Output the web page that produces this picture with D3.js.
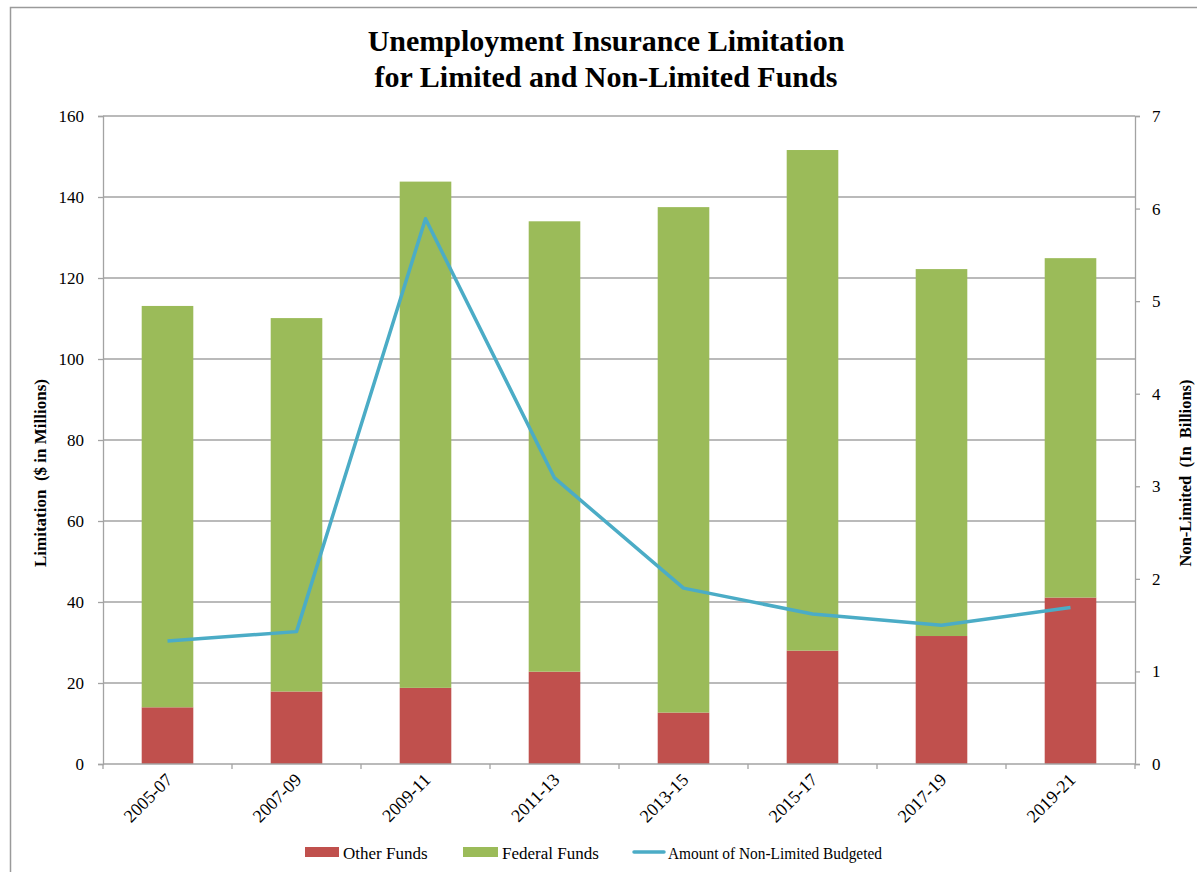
<!DOCTYPE html>
<html>
<head>
<meta charset="utf-8">
<script src="https://cdn.jsdelivr.net/npm/d3@7"></script>
<style>
  html, body { margin: 0; padding: 0; background: #fff; }
  svg { display: block; }
  text { font-family: "Liberation Serif", "Times New Roman", serif; fill: #000; }
</style>
</head>
<body>
<svg id="chart" width="1197" height="872"></svg>
<script>
// Biennium categories
const categories = ["2005-07", "2007-09", "2009-11", "2011-13", "2013-15", "2015-17", "2017-19", "2019-21"];
// Limited funds ($ in millions), stacked
const otherFunds = [14, 17.9, 18.8, 22.8, 12.7, 28.0, 31.6, 41.1];
const federalFunds = [99.1, 92.2, 125.0, 111.2, 124.8, 123.6, 90.6, 83.8];
// Non-limited amount budgeted ($ in billions), right axis
const nonLimited = [1.33, 1.43, 5.89, 3.09, 1.90, 1.62, 1.50, 1.69];
// Axis ticks
const leftTicks = [0, 20, 40, 60, 80, 100, 120, 140, 160];
const rightTicks = [0, 1, 2, 3, 4, 5, 6, 7];
const seriesNames = ["Other Funds", "Federal Funds", "Amount of Non-Limited Budgeted"];

const colors = { other: "#C0504D", federal: "#9BBB59", line: "#4BACC6", grid: "#a3a3a3" };

const svg = d3.select("#chart");
const plot = { left: 103, right: 1135, top: 116, bottom: 764 };

// Outer frame
svg.append("rect")
  .attr("x", 10.5).attr("y", 7.5)
  .attr("width", 1300).attr("height", 1000)
  .attr("fill", "none").attr("stroke", "#9a9a9a").attr("stroke-width", 1.5);

// Title
const title = svg.append("text")
  .attr("text-anchor", "middle")
  .attr("font-size", 30).attr("font-weight", "bold");
title.append("tspan").attr("x", 606).attr("y", 51).text("Unemployment Insurance Limitation");
title.append("tspan").attr("x", 606).attr("y", 87).text("for Limited and Non-Limited Funds");

const x = d3.scaleBand()
  .domain(categories)
  .range([plot.left, plot.right])
  .paddingInner(0.6)
  .paddingOuter(0.3);

const yL = d3.scaleLinear().domain([0, 160]).range([plot.bottom, plot.top]);
const yR = d3.scaleLinear().domain([0, 7]).range([plot.bottom, plot.top]);

// Horizontal gridlines on the left scale
svg.append("g")
  .selectAll("line")
  .data(leftTicks.filter(d => d > 0))
  .join("line")
  .attr("x1", plot.left).attr("x2", plot.right)
  .attr("y1", d => yL(d)).attr("y2", d => yL(d))
  .attr("stroke", colors.grid).attr("stroke-width", 1.3);

// Stacked bars
const rows = categories.map((c, i) => ({ cat: c, other: otherFunds[i], federal: federalFunds[i] }));
const stack = d3.stack().keys(["other", "federal"])(rows);
const fills = { other: colors.other, federal: colors.federal };

svg.append("g")
  .selectAll("g")
  .data(stack)
  .join("g")
  .attr("fill", d => fills[d.key])
  .selectAll("rect")
  .data(d => d)
  .join("rect")
  .attr("x", d => x(d.data.cat))
  .attr("width", x.bandwidth())
  .attr("y", d => yL(d[1]))
  .attr("height", d => yL(d[0]) - yL(d[1]));

// Left axis
const axisL = d3.axisLeft(yL).tickValues(leftTicks).tickSize(5).tickPadding(14).tickFormat(d3.format("d"));
const gL = svg.append("g").attr("transform", `translate(${plot.left},0)`).call(axisL);

// Right axis
const axisR = d3.axisRight(yR).tickValues(rightTicks).tickSize(5).tickPadding(12).tickFormat(d3.format("d"));
const gR = svg.append("g").attr("transform", `translate(${plot.right},0)`).call(axisR);

// Bottom axis: tick marks sit between categories
const bounds = d3.range(categories.length + 1).map(i => plot.left + i * x.step());
const gB = svg.append("g");
gB.append("line")
  .attr("x1", plot.left).attr("x2", plot.right)
  .attr("y1", plot.bottom).attr("y2", plot.bottom)
  .attr("stroke", colors.grid).attr("stroke-width", 1.3);
gB.selectAll("line.tick")
  .data(bounds)
  .join("line")
  .attr("class", "tick")
  .attr("x1", d => d).attr("x2", d => d)
  .attr("y1", plot.bottom).attr("y2", plot.bottom + 5)
  .attr("stroke", colors.grid).attr("stroke-width", 1.3);
gB.selectAll("text")
  .data(categories)
  .join("text")
  .attr("text-anchor", "end")
  .attr("font-size", 18)
  .attr("transform", d => `translate(${x(d) + x.bandwidth() / 2 + 6},${plot.bottom + 17}) rotate(-45)`)
  .text(d => d);

[gL, gR].forEach(g => {
  g.select(".domain").attr("stroke", colors.grid).attr("stroke-width", 1.3);
  g.selectAll(".tick line").attr("stroke", colors.grid).attr("stroke-width", 1.3);
  g.selectAll(".tick text")
    .attr("font-size", 17).attr("fill", "#000");
});

// Axis titles
svg.append("text")
  .attr("transform", "translate(46,473) rotate(-90)")
  .attr("text-anchor", "middle")
  .attr("font-size", 17).attr("font-weight", "bold")
  .style("white-space", "pre")
  .text("Limitation  ($ in Millions)");

svg.append("text")
  .attr("transform", "translate(1191,473) rotate(-90)")
  .attr("text-anchor", "middle")
  .attr("font-size", 16.5).attr("font-weight", "bold")
  .style("white-space", "pre")
  .text("Non-Limited  (In  Billions)");

// Non-limited line on the right scale
const line = d3.line()
  .x((d, i) => x(categories[i]) + x.bandwidth() / 2)
  .y(d => yR(d));
svg.append("path")
  .datum(nonLimited)
  .attr("d", line)
  .attr("fill", "none")
  .attr("stroke", colors.line)
  .attr("stroke-width", 3.5)
  .attr("stroke-linejoin", "round");

// Legend
const legend = svg.append("g").attr("font-size", 17);
const lg1 = legend.append("g").attr("transform", "translate(305,847)");
lg1.append("rect").attr("width", 34).attr("height", 10).attr("fill", colors.other);
lg1.append("text").attr("x", 38).attr("y", 11.5).text(seriesNames[0]);
const lg2 = legend.append("g").attr("transform", "translate(463,847)");
lg2.append("rect").attr("width", 35).attr("height", 10).attr("fill", colors.federal);
lg2.append("text").attr("x", 39).attr("y", 11.5).text(seriesNames[1]);
const lg3 = legend.append("g").attr("transform", "translate(634,847)");
lg3.append("line").attr("x1", 0).attr("x2", 30).attr("y1", 5).attr("y2", 5)
  .attr("stroke", colors.line).attr("stroke-width", 3.5).attr("stroke-linecap", "round");
lg3.append("text").attr("x", 34).attr("y", 11.5)
  .attr("textLength", 214).attr("lengthAdjust", "spacingAndGlyphs")
  .text(seriesNames[2]);
</script>
</body>
</html>
